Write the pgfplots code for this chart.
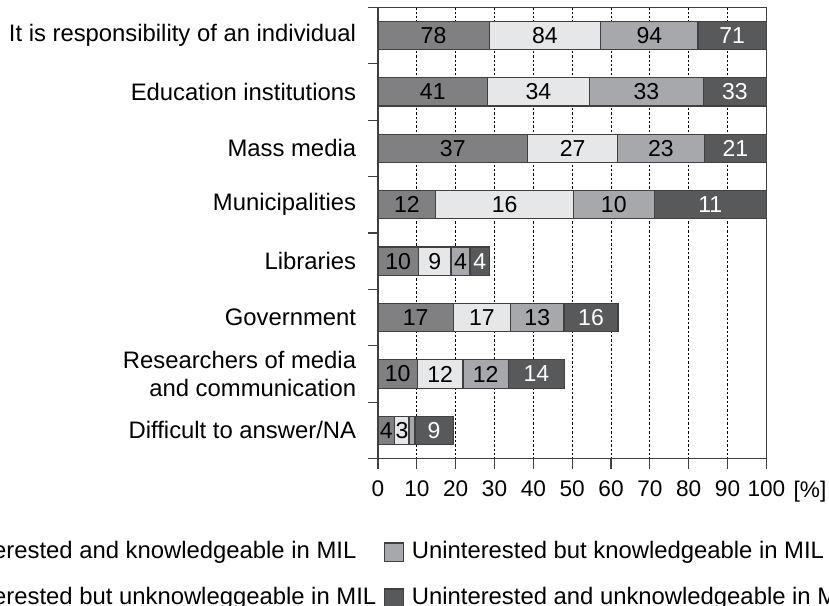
\documentclass[border=0pt]{standalone}
\usepackage{fontspec}
\setmainfont{Liberation Sans}
\usepackage{pgfplots}
\usepackage{pgfplotstable}
\pgfplotsset{compat=1.18}
\definecolor{cA}{RGB}{128,128,131}
\definecolor{cB}{RGB}{230,231,232}
\definecolor{cC}{RGB}{167,168,171}
\definecolor{cD}{RGB}{88,89,91}
\definecolor{bord}{RGB}{64,64,64}
\pgfplotstableread{
y a b c d la lb lc ld
0 28.6 28.7 25.1 17.6 78 84 94 71
1 28.2 26.2 29.4 16.2 41 34 33 33
2 38.5 23.2 22.3 16.0 37 27 23 21
3 14.9 35.4 20.8 28.9 12 16 10 11
4 10.4 8.4 4.9 5.0 10 9 4 4
5 19.4 14.7 13.8 13.9 17 17 13 16
6 10.1 11.8 11.6 14.6 10 12 12 14
7 4.3 3.7 1.5 9.9 4 3 {} 9
}\data
\newlength\Wone
\begin{document}
\settowidth{\Wone}{\fontsize{12}{14}\selectfont Interested but unknowleggeable in MIL}
\begin{tikzpicture}
\begin{axis}[
  name=ax,
  scale only axis,
  width=195.5pt, height=227.2pt,
  xbar stacked,
  bar width=0.5,
  y dir=reverse,
  xmin=0, xmax=100,
  ymin=-0.5, ymax=7.5,
  xtick={0,10,...,100},
  ytick={-0.5,0.5,...,7.5},
  yticklabels={},
  extra y ticks={0,1,2,3,4,5,6,7},
  extra y tick labels={It is responsibility of an individual, Education institutions, Mass media, Municipalities, Libraries, Government, {Researchers of media\\and communication}, Difficult to answer/NA},
  extra y tick style={tick style={draw=none}, yticklabel style={font=\fontsize{12}{13.8}\selectfont, align=right, xshift=-2.5pt}},
  xtick pos=bottom, ytick pos=left,
  tick align=outside,
  major tick length=5pt,
  tick style={bord, line width=0.6pt},
  axis line style={bord, line width=0.6pt},
  /pgf/number format/assume math mode=true,
  xticklabel style={font=\fontsize{11.4}{13}\selectfont, yshift=-2.5pt},
  xmajorgrids,
  major grid style={black, line width=0.5pt, dash pattern=on 1.2pt off 1pt},
  every axis plot/.append style={draw=bord, line width=0.6pt},
  legend columns=2,
  transpose legend,
  legend cell align=left,
  legend image code/.code={\draw[#1] (0pt,-4.75pt) rectangle (9.5pt,4.75pt); \path (13.35pt,0pt);},
  legend style={draw=none, fill=none, inner sep=0pt, outer sep=0pt,
    font=\fontsize{12}{14}\selectfont,
    at={(rel axis cs:0,0)}, anchor=west,
    xshift=-14.85pt-\Wone, yshift=-58.8pt,
    row sep=12pt,
    nodes={inner sep=0pt, text height=8.6pt, text depth=2.6pt},
    /tikz/every even column/.append style={column sep=4pt}},
]
\addplot[fill=cA] table[x=a, y=y] {\data};
\addlegendentry{Interested and knowledgeable in MIL}
\addplot[fill=cB] table[x=b, y=y] {\data};
\addlegendentry{Interested but unknowleggeable in MIL}
\addplot[fill=cC] table[x=c, y=y] {\data};
\addlegendentry{Uninterested but knowledgeable in MIL}
\addplot[fill=cD] table[x=d, y=y] {\data};
\addlegendentry{Uninterested and unknowledgeable in MIL}
\end{axis}
\begin{axis}[
  scale only axis,
  width=195.5pt, height=227.2pt,
  y dir=reverse,
  xmin=0, xmax=100,
  ymin=-0.5, ymax=7.5,
  hide axis,
  clip=false,
  nodes near coords,
  point meta=explicit symbolic,
  every node near coord/.append style={font=\fontsize{11.6}{13}\selectfont, anchor=center, inner sep=0pt},
]
\addplot[only marks, mark=none, nodes near coords style={text=black}] table[x expr=\thisrow{a}/2, y=y, meta=la] {\data};
\addplot[only marks, mark=none, nodes near coords style={text=black}] table[x expr=\thisrow{a}+\thisrow{b}/2, y=y, meta=lb] {\data};
\addplot[only marks, mark=none, nodes near coords style={text=black}] table[x expr=\thisrow{a}+\thisrow{b}+\thisrow{c}/2, y=y, meta=lc] {\data};
\addplot[only marks, mark=none, nodes near coords style={text=white}] table[x expr=\thisrow{a}+\thisrow{b}+\thisrow{c}+\thisrow{d}/2, y=y, meta=ld] {\data};
\end{axis}
\node[anchor=base west, inner sep=0pt, font=\fontsize{11.4}{13}\selectfont] at ([xshift=13.5pt, yshift=-19.5pt]ax.south east) {[\%]};
\pgfresetboundingbox
\path ([xshift=-187.5pt,yshift=3.65pt]ax.north west) rectangle ([xshift=31.5pt,yshift=-74.15pt]ax.south east);
\end{tikzpicture}
\end{document}
